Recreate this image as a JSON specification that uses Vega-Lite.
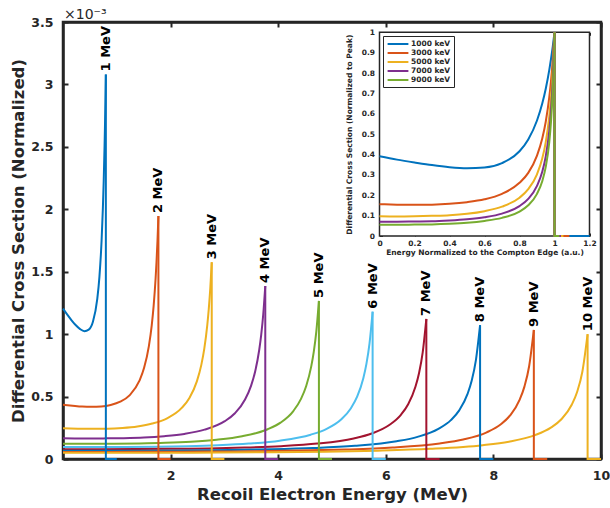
{
  "$schema": "https://vega.github.io/schema/vega-lite/v6.json",
  "width": 538,
  "height": 437,
  "autosize": "none",
  "padding": {"left": 63, "top": 22, "right": 9, "bottom": 49},
  "background": "white",
  "title": {"text": "×10⁻³", "anchor": "start", "frame": "group", "fontSize": 14, "fontWeight": "normal", "color": "#262626", "offset": -6, "dx": 1, "font": "DejaVu Sans"},
  "config": {
    "font": "DejaVu Sans",
    "view": {"stroke": "#262626", "strokeWidth": 2.5},
    "axis": {"grid": false, "labelFont": "DejaVu Sans", "titleFont": "DejaVu Sans", "labelFontWeight": "bold", "titleFontWeight": "bold", "labelColor": "#262626", "titleColor": "#262626", "domainColor": "#262626", "tickColor": "#262626", "labelFlush": false, "labelOverlap": false}
  },
  "datasets": {
    "main": [
      {"s":"1 MeV","i":0,"T":0,"v":1.204},{"s":"1 MeV","i":1,"T":0.0797,"v":1.156},{"s":"1 MeV","i":2,"T":0.1593,"v":1.111},{"s":"1 MeV","i":3,"T":0.239,"v":1.071},{"s":"1 MeV","i":4,"T":0.3186,"v":1.04},{"s":"1 MeV","i":5,"T":0.3983,"v":1.024},{"s":"1 MeV","i":6,"T":0.4779,"v":1.036},{"s":"1 MeV","i":7,"T":0.5576,"v":1.101},{"s":"1 MeV","i":8,"T":0.6372,"v":1.282},{"s":"1 MeV","i":9,"T":0.677,"v":1.459},{"s":"1 MeV","i":10,"T":0.7169,"v":1.746},{"s":"1 MeV","i":11,"T":0.7407,"v":2.003},{"s":"1 MeV","i":12,"T":0.7567,"v":2.227},{"s":"1 MeV","i":13,"T":0.7726,"v":2.508},{"s":"1 MeV","i":14,"T":0.7806,"v":2.676},{"s":"1 MeV","i":15,"T":0.7885,"v":2.865},{"s":"1 MeV","i":16,"T":0.7965,"v":3.08},{"s":"1 MeV","i":17,"T":0.7965,"v":0},{"s":"1 MeV","i":18,"T":1,"v":0},
      {"s":"2 MeV","i":0,"T":0,"v":0.435},{"s":"2 MeV","i":1,"T":0.1774,"v":0.427},{"s":"2 MeV","i":2,"T":0.3547,"v":0.42},{"s":"2 MeV","i":3,"T":0.5321,"v":0.418},{"s":"2 MeV","i":4,"T":0.7094,"v":0.421},{"s":"2 MeV","i":5,"T":0.8868,"v":0.433},{"s":"2 MeV","i":6,"T":1.0641,"v":0.459},{"s":"2 MeV","i":7,"T":1.2415,"v":0.512},{"s":"2 MeV","i":8,"T":1.4188,"v":0.625},{"s":"2 MeV","i":9,"T":1.5075,"v":0.73},{"s":"2 MeV","i":10,"T":1.5962,"v":0.904},{"s":"2 MeV","i":11,"T":1.6494,"v":1.071},{"s":"2 MeV","i":12,"T":1.6848,"v":1.227},{"s":"2 MeV","i":13,"T":1.7203,"v":1.44},{"s":"2 MeV","i":14,"T":1.738,"v":1.577},{"s":"2 MeV","i":15,"T":1.7558,"v":1.743},{"s":"2 MeV","i":16,"T":1.7735,"v":1.946},{"s":"2 MeV","i":17,"T":1.7735,"v":0},{"s":"2 MeV","i":18,"T":2,"v":0},
      {"s":"3 MeV","i":0,"T":0,"v":0.246},{"s":"3 MeV","i":1,"T":0.2765,"v":0.243},{"s":"3 MeV","i":2,"T":0.5529,"v":0.242},{"s":"3 MeV","i":3,"T":0.8294,"v":0.243},{"s":"3 MeV","i":4,"T":1.1058,"v":0.249},{"s":"3 MeV","i":5,"T":1.3823,"v":0.261},{"s":"3 MeV","i":6,"T":1.6588,"v":0.284},{"s":"3 MeV","i":7,"T":1.9352,"v":0.326},{"s":"3 MeV","i":8,"T":2.2117,"v":0.411},{"s":"3 MeV","i":9,"T":2.3499,"v":0.489},{"s":"3 MeV","i":10,"T":2.4881,"v":0.622},{"s":"3 MeV","i":11,"T":2.5711,"v":0.754},{"s":"3 MeV","i":12,"T":2.6264,"v":0.884},{"s":"3 MeV","i":13,"T":2.6817,"v":1.072},{"s":"3 MeV","i":14,"T":2.7093,"v":1.2},{"s":"3 MeV","i":15,"T":2.737,"v":1.363},{"s":"3 MeV","i":16,"T":2.7646,"v":1.576},{"s":"3 MeV","i":17,"T":2.7646,"v":0},{"s":"3 MeV","i":18,"T":3,"v":0},
      {"s":"4 MeV","i":0,"T":0,"v":0.166},{"s":"4 MeV","i":1,"T":0.376,"v":0.164},{"s":"4 MeV","i":2,"T":0.752,"v":0.165},{"s":"4 MeV","i":3,"T":1.1279,"v":0.167},{"s":"4 MeV","i":4,"T":1.5039,"v":0.172},{"s":"4 MeV","i":5,"T":1.8799,"v":0.183},{"s":"4 MeV","i":6,"T":2.2559,"v":0.201},{"s":"4 MeV","i":7,"T":2.6319,"v":0.235},{"s":"4 MeV","i":8,"T":3.0078,"v":0.303},{"s":"4 MeV","i":9,"T":3.1958,"v":0.366},{"s":"4 MeV","i":10,"T":3.3838,"v":0.476},{"s":"4 MeV","i":11,"T":3.4966,"v":0.588},{"s":"4 MeV","i":12,"T":3.5718,"v":0.701},{"s":"4 MeV","i":13,"T":3.647,"v":0.873},{"s":"4 MeV","i":14,"T":3.6846,"v":0.996},{"s":"4 MeV","i":15,"T":3.7222,"v":1.159},{"s":"4 MeV","i":16,"T":3.7598,"v":1.386},{"s":"4 MeV","i":17,"T":3.7598,"v":0},{"s":"4 MeV","i":18,"T":4,"v":0},
      {"s":"5 MeV","i":0,"T":0,"v":0.1228},{"s":"5 MeV","i":1,"T":0.4757,"v":0.1221},{"s":"5 MeV","i":2,"T":0.9514,"v":0.1226},{"s":"5 MeV","i":3,"T":1.4271,"v":0.1249},{"s":"5 MeV","i":4,"T":1.9028,"v":0.1297},{"s":"5 MeV","i":5,"T":2.3785,"v":0.1384},{"s":"5 MeV","i":6,"T":2.8541,"v":0.1539},{"s":"5 MeV","i":7,"T":3.3298,"v":0.1819},{"s":"5 MeV","i":8,"T":3.8055,"v":0.2382},{"s":"5 MeV","i":9,"T":4.0434,"v":0.2911},{"s":"5 MeV","i":10,"T":4.2812,"v":0.384},{"s":"5 MeV","i":11,"T":4.4239,"v":0.4815},{"s":"5 MeV","i":12,"T":4.5191,"v":0.583},{"s":"5 MeV","i":13,"T":4.6142,"v":0.7422},{"s":"5 MeV","i":14,"T":4.6618,"v":0.8607},{"s":"5 MeV","i":15,"T":4.7093,"v":1.0249},{"s":"5 MeV","i":16,"T":4.7569,"v":1.266},{"s":"5 MeV","i":17,"T":4.7569,"v":0},{"s":"5 MeV","i":18,"T":5,"v":0},
      {"s":"6 MeV","i":0,"T":0,"v":0.0962},{"s":"6 MeV","i":1,"T":0.5755,"v":0.0959},{"s":"6 MeV","i":2,"T":1.151,"v":0.0965},{"s":"6 MeV","i":3,"T":1.7265,"v":0.0986},{"s":"6 MeV","i":4,"T":2.302,"v":0.1028},{"s":"6 MeV","i":5,"T":2.8775,"v":0.1103},{"s":"6 MeV","i":6,"T":3.4529,"v":0.1233},{"s":"6 MeV","i":7,"T":4.0284,"v":0.147},{"s":"6 MeV","i":8,"T":4.6039,"v":0.1948},{"s":"6 MeV","i":9,"T":4.8917,"v":0.24},{"s":"6 MeV","i":10,"T":5.1794,"v":0.3206},{"s":"6 MeV","i":11,"T":5.3521,"v":0.4069},{"s":"6 MeV","i":12,"T":5.4672,"v":0.4988},{"s":"6 MeV","i":13,"T":5.5823,"v":0.6473},{"s":"6 MeV","i":14,"T":5.6398,"v":0.7617},{"s":"6 MeV","i":15,"T":5.6974,"v":0.9259},{"s":"6 MeV","i":16,"T":5.7549,"v":1.18},{"s":"6 MeV","i":17,"T":5.7549,"v":0},{"s":"6 MeV","i":18,"T":6,"v":0},
      {"s":"7 MeV","i":0,"T":0,"v":0.0789},{"s":"7 MeV","i":1,"T":0.6754,"v":0.0787},{"s":"7 MeV","i":2,"T":1.3507,"v":0.0794},{"s":"7 MeV","i":3,"T":2.0261,"v":0.0812},{"s":"7 MeV","i":4,"T":2.7014,"v":0.0849},{"s":"7 MeV","i":5,"T":3.3768,"v":0.0915},{"s":"7 MeV","i":6,"T":4.0521,"v":0.1028},{"s":"7 MeV","i":7,"T":4.7275,"v":0.1233},{"s":"7 MeV","i":8,"T":5.4028,"v":0.1648},{"s":"7 MeV","i":9,"T":5.7405,"v":0.2045},{"s":"7 MeV","i":10,"T":6.0782,"v":0.276},{"s":"7 MeV","i":11,"T":6.2808,"v":0.3538},{"s":"7 MeV","i":12,"T":6.4158,"v":0.4382},{"s":"7 MeV","i":13,"T":6.5509,"v":0.5783},{"s":"7 MeV","i":14,"T":6.6184,"v":0.6894},{"s":"7 MeV","i":15,"T":6.686,"v":0.854},{"s":"7 MeV","i":16,"T":6.7535,"v":1.122},{"s":"7 MeV","i":17,"T":6.7535,"v":0},{"s":"7 MeV","i":18,"T":7,"v":0},
      {"s":"8 MeV","i":0,"T":0,"v":0.0663},{"s":"8 MeV","i":1,"T":0.7752,"v":0.0662},{"s":"8 MeV","i":2,"T":1.5505,"v":0.0668},{"s":"8 MeV","i":3,"T":2.3257,"v":0.0685},{"s":"8 MeV","i":4,"T":3.101,"v":0.0718},{"s":"8 MeV","i":5,"T":3.8762,"v":0.0775},{"s":"8 MeV","i":6,"T":4.6514,"v":0.0874},{"s":"8 MeV","i":7,"T":5.4267,"v":0.1054},{"s":"8 MeV","i":8,"T":6.2019,"v":0.1419},{"s":"8 MeV","i":9,"T":6.5895,"v":0.177},{"s":"8 MeV","i":10,"T":6.9772,"v":0.2409},{"s":"8 MeV","i":11,"T":7.2097,"v":0.3114},{"s":"8 MeV","i":12,"T":7.3648,"v":0.3892},{"s":"8 MeV","i":13,"T":7.5198,"v":0.5211},{"s":"8 MeV","i":14,"T":7.5974,"v":0.6285},{"s":"8 MeV","i":15,"T":7.6749,"v":0.7924},{"s":"8 MeV","i":16,"T":7.7524,"v":1.072},{"s":"8 MeV","i":17,"T":7.7524,"v":0},{"s":"8 MeV","i":18,"T":8,"v":0},
      {"s":"9 MeV","i":0,"T":0,"v":0.057},{"s":"9 MeV","i":1,"T":0.8752,"v":0.057},{"s":"9 MeV","i":2,"T":1.7503,"v":0.0576},{"s":"9 MeV","i":3,"T":2.6255,"v":0.0592},{"s":"9 MeV","i":4,"T":3.5006,"v":0.0621},{"s":"9 MeV","i":5,"T":4.3758,"v":0.0672},{"s":"9 MeV","i":6,"T":5.251,"v":0.076},{"s":"9 MeV","i":7,"T":6.1261,"v":0.0919},{"s":"9 MeV","i":8,"T":7.0013,"v":0.1245},{"s":"9 MeV","i":9,"T":7.4389,"v":0.156},{"s":"9 MeV","i":10,"T":7.8764,"v":0.2138},{"s":"9 MeV","i":11,"T":8.139,"v":0.2784},{"s":"9 MeV","i":12,"T":8.314,"v":0.3506},{"s":"9 MeV","i":13,"T":8.4891,"v":0.4755},{"s":"9 MeV","i":14,"T":8.5766,"v":0.5796},{"s":"9 MeV","i":15,"T":8.6641,"v":0.7427},{"s":"9 MeV","i":16,"T":8.7516,"v":1.034},{"s":"9 MeV","i":17,"T":8.7516,"v":0},{"s":"9 MeV","i":18,"T":9,"v":0},
      {"s":"10 MeV","i":0,"T":0,"v":0.0498},{"s":"10 MeV","i":1,"T":0.9751,"v":0.0498},{"s":"10 MeV","i":2,"T":1.9502,"v":0.0504},{"s":"10 MeV","i":3,"T":2.9253,"v":0.0518},{"s":"10 MeV","i":4,"T":3.9004,"v":0.0544},{"s":"10 MeV","i":5,"T":4.8755,"v":0.059},{"s":"10 MeV","i":6,"T":5.8505,"v":0.0669},{"s":"10 MeV","i":7,"T":6.8256,"v":0.0812},{"s":"10 MeV","i":8,"T":7.8007,"v":0.1105},{"s":"10 MeV","i":9,"T":8.2883,"v":0.1389},{"s":"10 MeV","i":10,"T":8.7758,"v":0.1915},{"s":"10 MeV","i":11,"T":9.0683,"v":0.2509},{"s":"10 MeV","i":12,"T":9.2634,"v":0.3181},{"s":"10 MeV","i":13,"T":9.4584,"v":0.4364},{"s":"10 MeV","i":14,"T":9.5559,"v":0.537},{"s":"10 MeV","i":15,"T":9.6534,"v":0.6987},{"s":"10 MeV","i":16,"T":9.7509,"v":1.0},{"s":"10 MeV","i":17,"T":9.7509,"v":0},{"s":"10 MeV","i":18,"T":10,"v":0}
    ],
    "inset": [
      {"s":"1000 keV","i":0,"x":0,"v":0.391},{"s":"1000 keV","i":1,"x":0.1,"v":0.375},{"s":"1000 keV","i":2,"x":0.2,"v":0.361},{"s":"1000 keV","i":3,"x":0.3,"v":0.348},{"s":"1000 keV","i":4,"x":0.4,"v":0.338},{"s":"1000 keV","i":5,"x":0.5,"v":0.333},{"s":"1000 keV","i":6,"x":0.6,"v":0.336},{"s":"1000 keV","i":7,"x":0.7,"v":0.358},{"s":"1000 keV","i":8,"x":0.8,"v":0.416},{"s":"1000 keV","i":9,"x":0.85,"v":0.474},{"s":"1000 keV","i":10,"x":0.9,"v":0.567},{"s":"1000 keV","i":11,"x":0.93,"v":0.65},{"s":"1000 keV","i":12,"x":0.95,"v":0.723},{"s":"1000 keV","i":13,"x":0.97,"v":0.814},{"s":"1000 keV","i":14,"x":0.98,"v":0.869},{"s":"1000 keV","i":15,"x":0.99,"v":0.93},{"s":"1000 keV","i":16,"x":1,"v":1},{"s":"1000 keV","i":17,"x":1,"v":0},{"s":"1000 keV","i":18,"x":1.2,"v":0},
      {"s":"3000 keV","i":0,"x":0,"v":0.156},{"s":"3000 keV","i":1,"x":0.1,"v":0.154},{"s":"3000 keV","i":2,"x":0.2,"v":0.153},{"s":"3000 keV","i":3,"x":0.3,"v":0.154},{"s":"3000 keV","i":4,"x":0.4,"v":0.158},{"s":"3000 keV","i":5,"x":0.5,"v":0.166},{"s":"3000 keV","i":6,"x":0.6,"v":0.18},{"s":"3000 keV","i":7,"x":0.7,"v":0.207},{"s":"3000 keV","i":8,"x":0.8,"v":0.261},{"s":"3000 keV","i":9,"x":0.85,"v":0.31},{"s":"3000 keV","i":10,"x":0.9,"v":0.395},{"s":"3000 keV","i":11,"x":0.93,"v":0.479},{"s":"3000 keV","i":12,"x":0.95,"v":0.561},{"s":"3000 keV","i":13,"x":0.97,"v":0.68},{"s":"3000 keV","i":14,"x":0.98,"v":0.761},{"s":"3000 keV","i":15,"x":0.99,"v":0.865},{"s":"3000 keV","i":16,"x":1,"v":1},{"s":"3000 keV","i":17,"x":1,"v":0},{"s":"3000 keV","i":18,"x":1.085,"v":0},
      {"s":"5000 keV","i":0,"x":0,"v":0.097},{"s":"5000 keV","i":1,"x":0.1,"v":0.096},{"s":"5000 keV","i":2,"x":0.2,"v":0.097},{"s":"5000 keV","i":3,"x":0.3,"v":0.099},{"s":"5000 keV","i":4,"x":0.4,"v":0.102},{"s":"5000 keV","i":5,"x":0.5,"v":0.109},{"s":"5000 keV","i":6,"x":0.6,"v":0.122},{"s":"5000 keV","i":7,"x":0.7,"v":0.144},{"s":"5000 keV","i":8,"x":0.8,"v":0.188},{"s":"5000 keV","i":9,"x":0.85,"v":0.23},{"s":"5000 keV","i":10,"x":0.9,"v":0.303},{"s":"5000 keV","i":11,"x":0.93,"v":0.38},{"s":"5000 keV","i":12,"x":0.95,"v":0.461},{"s":"5000 keV","i":13,"x":0.97,"v":0.586},{"s":"5000 keV","i":14,"x":0.98,"v":0.68},{"s":"5000 keV","i":15,"x":0.99,"v":0.81},{"s":"5000 keV","i":16,"x":1,"v":1},{"s":"5000 keV","i":17,"x":1,"v":0},{"s":"5000 keV","i":18,"x":1.051,"v":0},
      {"s":"7000 keV","i":0,"x":0,"v":0.07},{"s":"7000 keV","i":1,"x":0.1,"v":0.07},{"s":"7000 keV","i":2,"x":0.2,"v":0.071},{"s":"7000 keV","i":3,"x":0.3,"v":0.072},{"s":"7000 keV","i":4,"x":0.4,"v":0.076},{"s":"7000 keV","i":5,"x":0.5,"v":0.082},{"s":"7000 keV","i":6,"x":0.6,"v":0.092},{"s":"7000 keV","i":7,"x":0.7,"v":0.11},{"s":"7000 keV","i":8,"x":0.8,"v":0.147},{"s":"7000 keV","i":9,"x":0.85,"v":0.182},{"s":"7000 keV","i":10,"x":0.9,"v":0.246},{"s":"7000 keV","i":11,"x":0.93,"v":0.315},{"s":"7000 keV","i":12,"x":0.95,"v":0.391},{"s":"7000 keV","i":13,"x":0.97,"v":0.515},{"s":"7000 keV","i":14,"x":0.98,"v":0.614},{"s":"7000 keV","i":15,"x":0.99,"v":0.761},{"s":"7000 keV","i":16,"x":1,"v":1},{"s":"7000 keV","i":17,"x":1,"v":0},{"s":"7000 keV","i":18,"x":1.037,"v":0},
      {"s":"9000 keV","i":0,"x":0,"v":0.055},{"s":"9000 keV","i":1,"x":0.1,"v":0.055},{"s":"9000 keV","i":2,"x":0.2,"v":0.056},{"s":"9000 keV","i":3,"x":0.3,"v":0.057},{"s":"9000 keV","i":4,"x":0.4,"v":0.06},{"s":"9000 keV","i":5,"x":0.5,"v":0.065},{"s":"9000 keV","i":6,"x":0.6,"v":0.074},{"s":"9000 keV","i":7,"x":0.7,"v":0.089},{"s":"9000 keV","i":8,"x":0.8,"v":0.12},{"s":"9000 keV","i":9,"x":0.85,"v":0.151},{"s":"9000 keV","i":10,"x":0.9,"v":0.207},{"s":"9000 keV","i":11,"x":0.93,"v":0.269},{"s":"9000 keV","i":12,"x":0.95,"v":0.339},{"s":"9000 keV","i":13,"x":0.97,"v":0.46},{"s":"9000 keV","i":14,"x":0.98,"v":0.561},{"s":"9000 keV","i":15,"x":0.99,"v":0.718},{"s":"9000 keV","i":16,"x":1,"v":1},{"s":"9000 keV","i":17,"x":1,"v":0},{"s":"9000 keV","i":18,"x":1.028,"v":0}
    ]
  },
  "layer": [
    {
      "layer": [
        {
          "data": {"name": "main"},
          "transform": [{"filter": "datum.i <= 16"}],
          "mark": {"type": "line", "strokeWidth": 2, "interpolate": "monotone"},
          "encoding": {
            "x": {"field": "T", "type": "quantitative", "scale": {"domain": [0, 10], "nice": false, "zero": false},
              "axis": {"orient": "bottom", "values": [2, 4, 6, 8, 10], "title": "Recoil Electron Energy (MeV)", "titleFontSize": 16.5, "labelFontSize": 12.5, "tickSize": -5, "tickWidth": 2, "domainWidth": 2.5, "labelPadding": 15, "titlePadding": 5}},
            "y": {"field": "v", "type": "quantitative", "scale": {"domain": [0, 3.5], "nice": false, "zero": false},
              "axis": {"orient": "left", "values": [0, 0.5, 1, 1.5, 2, 2.5, 3, 3.5], "format": "~g", "title": "Differential Cross Section (Normalized)", "titleFontSize": 16.5, "labelFontSize": 12.5, "tickSize": -5, "tickWidth": 2, "domainWidth": 2.5, "labelPadding": 15, "titlePadding": 4}},
            "color": {"field": "s", "type": "nominal", "legend": null,
              "scale": {"domain": ["1 MeV", "2 MeV", "3 MeV", "4 MeV", "5 MeV", "6 MeV", "7 MeV", "8 MeV", "9 MeV", "10 MeV"],
                "range": ["#0072BD", "#D95319", "#EDB120", "#7E2F8E", "#77AC30", "#4DBEEE", "#A2142F", "#0072BD", "#D95319", "#EDB120"]}},
            "order": {"field": "i", "type": "quantitative"}
          }
        },
        {
          "data": {"name": "main"},
          "transform": [{"filter": "datum.i >= 16"}],
          "mark": {"type": "line", "strokeWidth": 2},
          "encoding": {
            "x": {"field": "T", "type": "quantitative", "axis": null},
            "y": {"field": "v", "type": "quantitative", "axis": null},
            "color": {"field": "s", "type": "nominal", "legend": null},
            "order": {"field": "i", "type": "quantitative"}
          }
        },
        {
          "data": {"name": "main"},
          "transform": [{"aggregate": [{"op": "argmax", "field": "v", "as": "pk"}], "groupby": ["s"]}],
          "mark": {"type": "text", "angle": 270, "align": "left", "baseline": "middle", "dx": 3, "fontSize": 13, "fontWeight": "bold", "color": "#000000", "font": "DejaVu Sans"},
          "encoding": {
            "x": {"field": "pk.T", "type": "quantitative",
              "axis": {"orient": "top", "values": [2, 4, 6, 8, 10], "labels": false, "title": null, "tickSize": -5, "tickWidth": 2, "domainWidth": 2.5}},
            "y": {"field": "pk.v", "type": "quantitative",
              "axis": {"orient": "right", "values": [0, 0.5, 1, 1.5, 2, 2.5, 3, 3.5], "labels": false, "title": null, "tickSize": -5, "tickWidth": 2, "domainWidth": 2.5}},
            "text": {"field": "s", "type": "nominal"}
          }
        }
      ],
      "resolve": {"axis": {"x": "independent", "y": "independent"}}
    },
    {
      "layer": [
        {
          "data": {"values": [{}]},
          "mark": {"type": "rect", "fill": "white", "stroke": "#262626", "strokeWidth": 1.5},
          "encoding": {
            "x": {"datum": 0, "type": "quantitative", "scale": {"domain": [0, 1.2], "range": [316.5, 526.5], "nice": false, "zero": false},
              "axis": {"orient": "bottom", "offset": -223, "values": [0, 0.2, 0.4, 0.6, 0.8, 1, 1.2], "format": "~g", "title": "Energy Normalized to the Compton Edge (a.u.)", "titleFontSize": 7.5, "labelFontSize": 7.5, "tickSize": -3, "tickWidth": 1, "domain": false, "labelPadding": 6, "titlePadding": 2}},
            "x2": {"datum": 1.2},
            "y": {"datum": 0, "type": "quantitative", "scale": {"domain": [0, 1], "range": [214, 10.3], "nice": false, "zero": false},
              "axis": {"orient": "left", "offset": -316.5, "values": [0, 0.1, 0.2, 0.3, 0.4, 0.5, 0.6, 0.7, 0.8, 0.9, 1], "format": "~g", "title": "Differential Cross Section (Normalized to Peak)", "titleFontSize": 7.5, "labelFontSize": 7.5, "tickSize": -3, "tickWidth": 1, "domain": false, "labelPadding": 8, "titlePadding": 8}},
            "y2": {"datum": 1}
          }
        },
        {
          "data": {"name": "inset"},
          "transform": [{"filter": "datum.i <= 16"}],
          "mark": {"type": "line", "strokeWidth": 2, "interpolate": "monotone"},
          "encoding": {
            "x": {"field": "x", "type": "quantitative",
              "axis": {"orient": "top", "offset": -10.3, "values": [0, 0.2, 0.4, 0.6, 0.8, 1, 1.2], "labels": false, "title": null, "tickSize": -3, "tickWidth": 1, "domain": false}},
            "y": {"field": "v", "type": "quantitative",
              "axis": {"orient": "right", "offset": -11.5, "values": [0, 0.1, 0.2, 0.3, 0.4, 0.5, 0.6, 0.7, 0.8, 0.9, 1], "labels": false, "title": null, "tickSize": -3, "tickWidth": 1, "domain": false}},
            "color": {"field": "s", "type": "nominal",
              "scale": {"domain": ["1000 keV", "3000 keV", "5000 keV", "7000 keV", "9000 keV"], "range": ["#0072BD", "#D95319", "#EDB120", "#7E2F8E", "#77AC30"]},
              "legend": {"orient": "none", "legendX": 320, "legendY": 14, "title": null, "symbolType": "M-2.6,0L2.6,0", "symbolStrokeWidth": 2, "symbolSize": 64, "symbolOffset": 7, "labelFontSize": 7.5, "labelFontWeight": "bold", "labelColor": "#262626", "labelFont": "DejaVu Sans", "fillColor": "white", "strokeColor": "#262626", "padding": 3, "rowPadding": -1, "labelOffset": 8}},
            "order": {"field": "i", "type": "quantitative"}
          }
        },
        {
          "data": {"name": "inset"},
          "transform": [{"filter": "datum.i >= 16"}],
          "mark": {"type": "line", "strokeWidth": 2},
          "encoding": {
            "x": {"field": "x", "type": "quantitative", "axis": null},
            "y": {"field": "v", "type": "quantitative", "axis": null},
            "color": {"field": "s", "type": "nominal", "legend": null},
            "order": {"field": "i", "type": "quantitative"}
          }
        }
      ],
      "resolve": {"axis": {"x": "independent", "y": "independent"}}
    }
  ],
  "resolve": {"scale": {"x": "independent", "y": "independent", "color": "independent"}, "axis": {"x": "independent", "y": "independent"}, "legend": {"color": "independent"}}
}
